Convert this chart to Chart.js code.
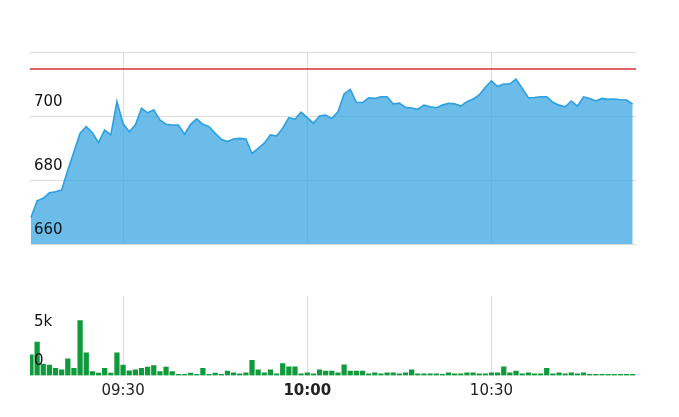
<!DOCTYPE html>
<html><head><meta charset="utf-8">
<script src="https://cdn.jsdelivr.net/npm/chart.js@4.4.1/dist/chart.umd.min.js"></script>
<style>
html,body{margin:0;padding:0;background:#fff;width:679px;height:417px;overflow:hidden}
canvas{position:absolute;left:0;top:0}
</style></head>
<body>
<canvas id="price" width="679" height="417"></canvas>
<canvas id="vol" width="679" height="417"></canvas>
<script>
const times = [
 '09:15','09:16','09:17','09:18','09:19','09:20','09:21','09:22','09:23','09:24',
 '09:25','09:26','09:27','09:28','09:29','09:30','09:31','09:32','09:33','09:34',
 '09:35','09:36','09:37','09:38','09:39','09:40','09:41','09:42','09:43','09:44',
 '09:45','09:46','09:47','09:48','09:49','09:50','09:51','09:52','09:53','09:54',
 '09:55','09:56','09:57','09:58','09:59','10:00','10:01','10:02','10:03','10:04',
 '10:05','10:06','10:07','10:08','10:09','10:10','10:11','10:12','10:13','10:14',
 '10:15','10:16','10:17','10:18','10:19','10:20','10:21','10:22','10:23','10:24',
 '10:25','10:26','10:27','10:28','10:29','10:30','10:31','10:32','10:33','10:34',
 '10:35','10:36','10:37','10:38','10:39','10:40','10:41','10:42','10:43','10:44',
 '10:45','10:46','10:47','10:48','10:49','10:50','10:51','10:52','10:53'
];
const prices = [
 668.3,673.5,674.3,676.0,676.3,676.9,683.1,688.8,694.6,696.7,
 694.8,691.7,695.6,694.1,704.5,697.7,695.1,697.2,702.4,701.0,
 701.9,698.75,697.4,697.2,697.2,694.3,697.4,699.1,697.4,696.7,
 694.6,692.7,692.0,692.8,693.0,692.8,688.3,689.9,691.5,694.1,
 693.75,696.2,699.5,699.0,701.2,699.5,697.7,700.0,700.3,699.2,
 701.3,706.9,708.3,704.3,704.2,705.7,705.5,706.0,706.0,703.75,
 704.0,702.7,702.5,702.1,703.4,702.9,702.6,703.4,704.0,703.8,
 703.1,704.5,705.3,706.6,709.0,711.0,709.2,710.0,710.0,711.5,
 708.7,705.7,705.8,706.0,706.0,704.3,703.4,702.9,704.7,703.1,
 706.0,705.5,704.7,705.5,705.2,705.3,705.1,705.0,703.7
];
const volumes = [
 2600,4200,1450,1300,900,700,2100,900,6900,2850,
 500,300,900,300,2850,1300,600,700,900,1050,
 1250,500,1050,500,150,150,300,150,900,150,
 300,150,550,350,200,350,1900,700,350,700,
 200,1500,1100,1100,200,350,200,700,550,550,
 350,1350,550,550,550,200,350,200,350,350,
 200,350,700,200,200,200,200,150,350,200,
 200,350,350,200,200,350,350,1100,350,550,
 200,350,200,200,900,200,350,200,350,200,
 350,150,150,150,150,150,150,150,150
];
const referencePrice = 714.7;
const priceTicks = [660, 680, 700, 720];
const volumeTicks = [0, 5000, 10000];
const volumeTickLabels = ['0', '5k', ''];
const timeTicks = ['09:30', '10:00', '10:30'];
const boldTick = '10:00';

function toMin(t){ const p = t.split(':').map(Number); return p[0]*60 + p[1] - 540; }
const xMin = toMin(times[0]) - 0.16;
const xMax = toMin(times[times.length-1]) + 0.54;

Chart.defaults.font.family = "'DejaVu Sans', Verdana, sans-serif";
Chart.defaults.font.size = 15;
Chart.defaults.animation = false;

function xScale(showLabels, axisHeight){
  return {
    type: 'linear', min: xMin, max: xMax, offset: false,
    afterBuildTicks: s => { s.ticks = timeTicks.map(t => ({value: toMin(t)})); },
    afterFit: s => { s.height = axisHeight; },
    grid: {color: '#dcdcdc', lineWidth: 1, drawTicks: false, offset: false},
    border: {display: false},
    ticks: {
      display: showLabels, padding: 7, color: '#222', maxRotation: 0, autoSkip: false,
      callback: v => { const t = timeTicks.find(t => toMin(t) === v); return t || ''; },
      font: ctx => ({weight: (ctx.tick && ctx.tick.value === toMin(boldTick)) ? 'bold' : 'normal'})
    }
  };
}

function yScale(min, max, tickValues, labelFn, showGrid){
  return {
    min, max,
    afterBuildTicks: s => { s.ticks = tickValues.map(v => ({value: v})); },
    afterFit: s => { s.width = 0; },
    grid: {display: showGrid, color: '#dcdcdc', drawTicks: false},
    border: {display: false},
    ticks: {mirror: true, padding: 4, labelOffset: -14, color: '#111', z: 1, callback: labelFn}
  };
}

new Chart(document.getElementById('price'), {
  type: 'line',
  data: {
    datasets: [
      {
        data: times.map((t, i) => ({x: toMin(t), y: prices[i]})),
        borderColor: '#2b9fe0', borderWidth: 1.6,
        backgroundColor: 'rgba(44,160,224,0.7)',
        fill: 'start', pointRadius: 0, tension: 0
      },
      {
        data: [{x: xMin, y: referencePrice}, {x: xMax, y: referencePrice}],
        borderColor: '#d03535', borderWidth: 1.5, pointRadius: 0, fill: false
      }
    ]
  },
  options: {
    responsive: false, devicePixelRatio: 1,
    layout: {padding: {left: 30, right: 43, top: 52, bottom: 173}},
    plugins: {legend: {display: false}, tooltip: {enabled: false}},
    scales: {
      x: xScale(false, 0),
      y: yScale(660, 720, priceTicks,
        v => v === priceTicks[priceTicks.length-1] ? '' : String(v), true)
    }
  }
});

new Chart(document.getElementById('vol'), {
  type: 'bar',
  data: {
    datasets: [{
      data: times.map((t, i) => ({x: toMin(t), y: volumes[i]})),
      backgroundColor: '#109a3b', borderWidth: 0, barThickness: 4.6
    }]
  },
  options: {
    responsive: false, devicePixelRatio: 1,
    layout: {padding: {left: 30, right: 43, top: 296, bottom: 5.5}},
    plugins: {legend: {display: false}, tooltip: {enabled: false}},
    scales: {
      x: xScale(true, 36),
      y: yScale(0, 10000, volumeTicks,
        v => { const i = volumeTicks.indexOf(v); return i >= 0 ? volumeTickLabels[i] : ''; }, false)
    }
  }
});
</script>
</body></html>
